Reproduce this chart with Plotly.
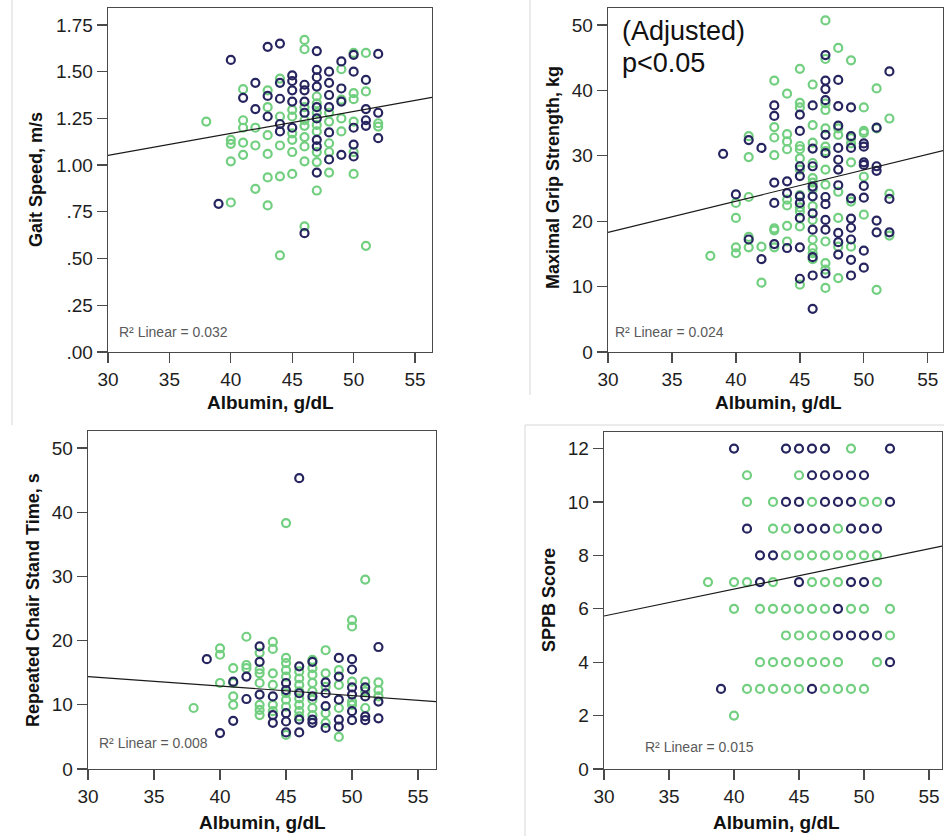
import plotly.graph_objects as go

# ---------------- data ----------------
# Panel A: Gait speed
gait_navy_x = [40, 39, 43, 44, 42, 41, 42, 43, 43, 44, 44, 44, 44,
               45, 45, 45, 45, 45, 46, 46, 46, 46, 46,
               47, 47, 47, 47, 47, 47, 47, 47, 47,
               48, 48, 48, 48, 48, 48, 49, 49, 49, 49,
               50, 50, 50, 50, 50, 51, 51, 51, 51, 52, 52, 52]
gait_navy_y = [1.563, 0.793, 1.633, 1.65, 1.44, 1.36, 1.30, 1.37, 1.26, 1.355, 1.44, 1.22, 1.18,
               1.48, 1.45, 1.40, 1.34, 1.20, 1.43, 1.40, 1.34, 1.28, 0.636,
               1.61, 1.51, 1.47, 1.42, 1.31, 1.25, 1.135, 1.10, 0.96,
               1.50, 1.44, 1.375, 1.31, 1.175, 1.03, 1.555, 1.41, 1.34, 1.055,
               1.59, 1.50, 1.20, 1.11, 1.046, 1.456, 1.30, 1.24, 1.21, 1.595, 1.28, 1.144]
gait_green_x = [38, 40, 40, 40, 40, 41, 41, 41, 41, 41, 42, 42, 42,
                43, 43, 43, 43, 43, 43, 44, 44, 44, 44, 44,
                45, 45, 45, 45, 45, 45, 46, 46, 46, 46, 46, 46, 46, 46, 46,
                47, 47, 47, 47, 47, 47, 47, 47, 48, 48, 48, 48, 48,
                49, 49, 49, 49, 50, 50, 50, 50, 50, 50, 51, 51, 51, 52, 52]
gait_green_y = [1.233, 1.135, 1.114, 1.02, 0.80, 1.406, 1.24, 1.20, 1.12, 1.055, 1.20, 1.105, 0.873,
                1.40, 1.31, 1.16, 1.06, 0.934, 0.784, 1.463, 1.26, 1.105, 0.94, 0.517,
                1.296, 1.26, 1.17, 1.135, 1.07, 0.953, 1.67, 1.62, 1.31, 1.24, 1.21, 1.15, 1.10, 1.02, 0.672,
                1.367, 1.33, 1.28, 1.215, 1.18, 1.07, 1.016, 0.864, 1.28, 1.233, 1.117, 1.07, 0.96,
                1.513, 1.35, 1.25, 1.18, 1.60, 1.385, 1.353, 1.233, 1.07, 0.953, 1.60, 1.394, 0.568, 1.224, 1.206]
gait_fit_x = [30, 56.38]
gait_fit_y = [1.052, 1.362]

# Panel B: Maximal grip strength
grip_navy_x = [39, 40, 41, 41, 42, 42, 43, 43, 43, 43, 43, 44, 44, 44,
               45, 45, 45, 45, 45, 45, 45, 45, 45,
               46, 46, 46, 46, 46, 46, 46, 46, 46, 46,
               47, 47, 47, 47, 47, 47, 47, 47, 47, 47, 47,
               48, 48, 48, 48, 48, 48, 48, 48, 48, 48,
               49, 49, 49, 49, 49, 49, 49, 49, 49,
               50, 50, 50, 50, 50, 50, 50, 50,
               51, 51, 51, 51, 51, 52, 52, 52]
grip_navy_y = [30.3, 24.1, 32.4, 17.2, 31.2, 14.2, 37.7, 36.1, 25.9, 22.8, 16.5, 26.1, 24.3, 15.9,
               36.3, 33.8, 28.4, 26.9, 23.8, 22.8, 20.5, 16.0, 11.2,
               37.7, 31.1, 28.4, 25.3, 23.8, 21.2, 18.7, 14.5, 11.7, 6.6,
               45.4, 41.5, 40.2, 38.5, 33.2, 30.4, 23.7, 22.6, 20.2, 18.7, 12.0,
               41.6, 37.6, 34.6, 31.2, 29.4, 27.9, 25.5, 18.2, 16.8, 14.9,
               37.4, 33.0, 31.2, 23.5, 20.4, 19.0, 17.2, 14.1, 11.7,
               31.9, 31.4, 29.0, 28.6, 25.4, 23.6, 15.5, 12.9,
               34.3, 28.4, 27.7, 20.1, 18.3, 42.9, 23.4, 18.3]
grip_green_x = [38, 40, 40, 40, 40, 41, 41, 41, 41, 41, 42, 42,
                43, 43, 43, 43, 43, 43, 43, 44, 44, 44, 44, 44, 44, 44, 44,
                45, 45, 45, 45, 45, 45, 45, 45, 45, 45, 45, 45,
                46, 46, 46, 46, 46, 46, 46, 46, 46, 46, 46, 46, 46,
                47, 47, 47, 47, 47, 47, 47, 47, 47, 47, 47, 47, 47,
                48, 48, 48, 48, 48, 48, 48, 49, 49, 49, 49, 49, 49,
                50, 50, 50, 50, 50, 51, 51, 51, 52, 52, 52]
grip_green_y = [14.7, 22.8, 20.5, 16.0, 15.1, 33.0, 29.8, 23.7, 17.6, 16.0, 16.1, 10.6,
                41.5, 34.4, 32.8, 30.1, 18.9, 18.6, 16.0, 39.5, 33.3, 32.2, 31.0, 23.3, 22.4, 19.3, 16.9,
                43.3, 38.1, 37.4, 31.5, 31.0, 29.6, 27.9, 24.0, 22.1, 21.5, 19.2, 10.3,
                40.9, 34.7, 32.0, 28.9, 26.6, 25.9, 24.9, 22.3, 20.2, 17.2, 15.9, 15.1, 14.2,
                50.7, 44.8, 38.0, 37.0, 34.2, 31.4, 30.7, 27.9, 25.6, 16.9, 13.6, 12.6, 9.8,
                46.5, 34.2, 33.2, 24.5, 20.5, 16.1, 11.3, 44.6, 32.7, 31.9, 29.0, 23.0, 16.1,
                37.4, 33.8, 33.5, 26.8, 21.0, 40.3, 34.2, 9.5, 35.7, 24.2, 17.8]
grip_fit_x = [30, 56.2]
grip_fit_y = [18.3, 30.8]

# Panel C: Repeated chair stand time
chair_navy_x = [39, 40, 41, 41, 42, 42, 43, 43, 43, 44, 44, 44,
                45, 45, 45, 45, 45, 46, 46, 46, 46, 46, 47, 47, 47, 47,
                48, 48, 48, 48, 49, 49, 49, 49, 49,
                50, 50, 50, 50, 50, 50, 51, 51, 51, 51, 52, 52, 52]
chair_navy_y = [17.1, 5.6, 13.6, 7.5, 14.4, 10.9, 19.1, 16.7, 11.6, 11.3, 8.4, 7.2,
                13.4, 12.3, 8.7, 7.4, 5.7, 45.3, 16.0, 11.8, 7.7, 5.7, 16.7, 11.3, 7.7, 7.2,
                13.5, 11.8, 9.8, 6.4, 17.3, 14.4, 10.8, 7.7, 6.6,
                17.1, 15.5, 12.7, 11.6, 9.0, 7.6, 12.7, 11.3, 8.2, 7.6, 19.0, 10.5, 7.9]
chair_green_x = [38, 40, 40, 40, 41, 41, 41, 41, 42, 42, 42,
                 43, 43, 43, 43, 43, 43, 43, 44, 44, 44, 44, 44, 44,
                 45, 45, 45, 45, 45, 45, 45, 45, 45,
                 46, 46, 46, 46, 46, 46, 46, 46, 47, 47, 47, 47, 47, 47, 47, 47,
                 48, 48, 48, 48, 48, 49, 49, 49, 49, 50, 50, 50, 50, 50,
                 51, 51, 51, 51, 52, 52, 52]
chair_green_y = [9.5, 18.8, 17.8, 13.4, 15.7, 13.4, 11.3, 10.0, 20.6, 16.2, 15.7,
                 18.1, 15.5, 14.9, 13.4, 10.0, 9.2, 8.4, 19.8, 18.7, 14.9, 13.1, 10.0, 9.0,
                 38.3, 17.3, 16.5, 15.4, 14.4, 11.8, 10.8, 9.7, 5.3,
                 15.2, 14.1, 13.1, 12.1, 11.0, 10.0, 9.0, 8.2, 17.0, 15.7, 14.7, 13.4, 12.1, 10.8, 9.5, 8.4,
                 18.5, 14.9, 12.8, 8.7, 7.2, 15.4, 13.1, 9.5, 5.0, 23.2, 22.2, 13.6, 10.5, 10.0,
                 29.5, 13.6, 12.1, 9.5, 13.5, 12.3, 11.3]
chair_fit_x = [30, 56.36]
chair_fit_y = [14.4, 10.5]

# Panel D: SPPB score
sppb_navy_x = [40, 44, 45, 46, 47, 52, 46, 47, 48, 49, 50, 44, 45, 47, 48, 49, 52,
               41, 45, 46, 47, 49, 50, 51, 42, 43, 42, 45, 49, 50, 48, 48, 49, 50, 51, 52, 39, 46]
sppb_navy_y = [12, 12, 12, 12, 12, 12, 11, 11, 11, 11, 11, 10, 10, 10, 10, 10, 10,
               9, 9, 9, 9, 9, 9, 9, 8, 8, 7, 7, 7, 7, 6, 5, 5, 5, 5, 4, 3, 3]
sppb_green_x = [49, 41, 45, 41, 43, 46, 50, 51, 43, 44, 48,
                44, 45, 46, 47, 48, 49, 50, 51,
                38, 40, 41, 43, 46, 47, 48, 51,
                40, 42, 43, 44, 45, 46, 47, 49, 50, 52,
                44, 45, 46, 47, 52,
                42, 43, 44, 45, 46, 47, 48, 51,
                41, 42, 43, 44, 45, 47, 48, 49, 50, 40]
sppb_green_y = [12, 11, 11, 10, 10, 10, 10, 10, 9, 9, 9,
                8, 8, 8, 8, 8, 8, 8, 8,
                7, 7, 7, 7, 7, 7, 7, 7,
                6, 6, 6, 6, 6, 6, 6, 6, 6, 6,
                5, 5, 5, 5, 5,
                4, 4, 4, 4, 4, 4, 4, 4,
                3, 3, 3, 3, 3, 3, 3, 3, 3, 2]
sppb_fit_x = [30, 56.0]
sppb_fit_y = [5.73, 8.35]

x_ticks = [30, 35, 40, 45, 50, 55]
gait_ticks = [0, 0.25, 0.5, 0.75, 1.0, 1.25, 1.5, 1.75]
gait_ticktext = [".00", ".25", ".50", ".75", "1.00", "1.25", "1.50", "1.75"]
grip_ticks = [0, 10, 20, 30, 40, 50]
chair_ticks = [0, 10, 20, 30, 40, 50]
sppb_ticks = [0, 2, 4, 6, 8, 10, 12]
r2_texts = ["R² Linear = 0.032", "R² Linear = 0.024", "R² Linear = 0.008", "R² Linear = 0.015"]
y_titles = ["Gait Speed, m/s", "Maximal Grip Strength, kg", "Repeated Chair Stand Time, s", "SPPB Score"]
x_title = "Albumin, g/dL"

# ---------------- styling / layout ----------------
W, H = 944, 836
NAVY = "#27255f"
GREEN = "#72cf80"
AXC = "#4a4a4a"
FONT = "Arial, Liberation Sans, sans-serif"

def px_x(p):
    return p / W

def px_y(p):
    return 1 - p / H

panels = [
    dict(xd=(108, 432), yd=(8, 352), xmax=56.38, ymax=1.8406,
         nx=gait_navy_x, ny=gait_navy_y, gx=gait_green_x, gy=gait_green_y,
         fx=gait_fit_x, fy=gait_fit_y, tv=gait_ticks, tt=gait_ticktext,
         r2=(117, 332), ytitle=(36, 180), xtitle=(270, 403)),
    dict(xd=(608, 943), yd=(8, 352), xmax=56.19, ymax=52.6,
         nx=grip_navy_x, ny=grip_navy_y, gx=grip_green_x, gy=grip_green_y,
         fx=grip_fit_x, fy=grip_fit_y, tv=grip_ticks, tt=[str(v) for v in grip_ticks],
         r2=(613, 332), ytitle=(553, 178), xtitle=(778, 403)),
    dict(xd=(88, 436), yd=(431, 769), xmax=56.36, ymax=52.65,
         nx=chair_navy_x, ny=chair_navy_y, gx=chair_green_x, gy=chair_green_y,
         fx=chair_fit_x, fy=chair_fit_y, tv=chair_ticks, tt=[str(v) for v in chair_ticks],
         r2=(97, 743), ytitle=(33, 600), xtitle=(262, 822)),
    dict(xd=(604, 942), yd=(432, 769), xmax=56.0, ymax=12.62,
         nx=sppb_navy_x, ny=sppb_navy_y, gx=sppb_green_x, gy=sppb_green_y,
         fx=sppb_fit_x, fy=sppb_fit_y, tv=sppb_ticks, tt=[str(v) for v in sppb_ticks],
         r2=(643, 747), ytitle=(549, 600), xtitle=(776, 822)),
]

fig = go.Figure()
annotations = []
layout_axes = {}

for i, p in enumerate(panels):
    n = i + 1
    xa = "x" if n == 1 else f"x{n}"
    ya = "y" if n == 1 else f"y{n}"
    mk = lambda c: dict(symbol="circle-open", size=8, color=c, line=dict(width=2.2, color=c))
    fig.add_trace(go.Scatter(x=p["gx"], y=p["gy"], mode="markers", marker=mk(GREEN),
                             xaxis=xa, yaxis=ya, showlegend=False, cliponaxis=False))
    fig.add_trace(go.Scatter(x=p["nx"], y=p["ny"], mode="markers", marker=mk(NAVY),
                             xaxis=xa, yaxis=ya, showlegend=False, cliponaxis=False))
    fig.add_trace(go.Scatter(x=p["fx"], y=p["fy"], mode="lines",
                             line=dict(color="#1a1a1a", width=1.2),
                             xaxis=xa, yaxis=ya, showlegend=False))
    common = dict(showline=True, mirror=True, linecolor=AXC, linewidth=1.3,
                  ticks="outside", ticklen=10, tickwidth=1.3, tickcolor=AXC,
                  showgrid=False, zeroline=False, fixedrange=True, automargin=False,
                  tickfont=dict(family=FONT, size=19, color="#1e1e1e"))
    layout_axes["xaxis" if n == 1 else f"xaxis{n}"] = dict(
        common, domain=[px_x(p["xd"][0]), px_x(p["xd"][1])], range=[30, p["xmax"]],
        tickvals=x_ticks, ticktext=[str(v) for v in x_ticks], anchor=ya,
        ticklabeloverflow="allow")
    layout_axes["yaxis" if n == 1 else f"yaxis{n}"] = dict(
        common, domain=[px_y(p["yd"][1]), px_y(p["yd"][0])], range=[0, p["ymax"]],
        tickvals=p["tv"], ticktext=p["tt"], anchor=xa)
    annotations.append(dict(text=r2_texts[i], xref="paper", yref="paper",
                            x=px_x(p["r2"][0]), y=px_y(p["r2"][1]), xanchor="left", yanchor="middle",
                            showarrow=False, font=dict(family=FONT, size=14, color="#5a5a5a")))
    annotations.append(dict(text=f"<b>{y_titles[i]}</b>", xref="paper", yref="paper",
                            x=px_x(p["ytitle"][0]), y=px_y(p["ytitle"][1]), xanchor="center", yanchor="middle",
                            textangle=-90, showarrow=False, font=dict(family=FONT, size=18, color="#111")))
    annotations.append(dict(text=f"<b>{x_title}</b>", xref="paper", yref="paper",
                            x=px_x(p["xtitle"][0]), y=px_y(p["xtitle"][1]), xanchor="center", yanchor="middle",
                            showarrow=False, font=dict(family=FONT, size=19, color="#111")))

annotations.append(dict(text="(Adjusted)", xref="paper", yref="paper", x=px_x(620), y=px_y(31),
                        xanchor="left", yanchor="middle", showarrow=False,
                        font=dict(family=FONT, size=27, color="#111")))
annotations.append(dict(text="p&lt;0.05", xref="paper", yref="paper", x=px_x(620), y=px_y(63),
                        xanchor="left", yanchor="middle", showarrow=False,
                        font=dict(family=FONT, size=27, color="#111")))

sep = dict(color="#e4e4e4", width=1.5)
shapes = [
    dict(type="line", xref="paper", yref="paper", x0=px_x(12), x1=px_x(12), y0=px_y(0), y1=px_y(425), line=sep),
    dict(type="line", xref="paper", yref="paper", x0=px_x(530), x1=px_x(530), y0=px_y(0), y1=px_y(395), line=sep),
    dict(type="line", xref="paper", yref="paper", x0=px_x(525), x1=px_x(944), y0=px_y(425), y1=px_y(425), line=sep),
    dict(type="line", xref="paper", yref="paper", x0=px_x(525), x1=px_x(525), y0=px_y(425), y1=px_y(836), line=sep),
]

fig.update_layout(width=W, height=H, margin=dict(l=0, r=0, t=0, b=0, pad=0, autoexpand=False),
                  paper_bgcolor="white", plot_bgcolor="white", hovermode=False,
                  annotations=annotations, shapes=shapes, **layout_axes)

fig.write_html("out.html", config={"displayModeBar": False, "staticPlot": True},
               post_script="document.body.style.margin='0';document.body.style.overflow='hidden';")
